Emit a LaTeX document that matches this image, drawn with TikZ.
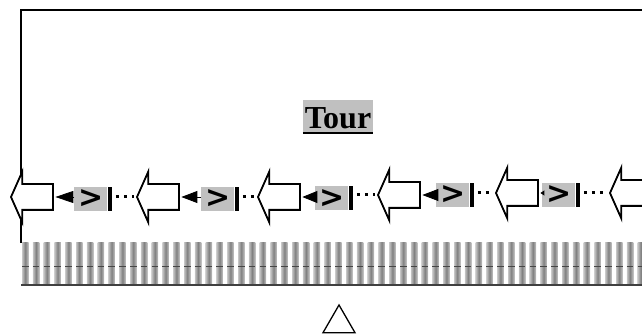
\documentclass[tikz,border=0pt]{standalone}
\usepackage{fontspec}
\setmainfont{Liberation Serif}
\newfontfamily\glyphfont{DejaVu Sans}
\usetikzlibrary{shapes,arrows.meta,positioning,calc}
\definecolor{boxgrey}{HTML}{C0C0C0}

\begin{document}
\begin{tikzpicture}[x=1pt, y=-1pt,
  blk/.style={single arrow, draw, fill=white, line width=1.8pt, shape border rotate=180,
    single arrow head extend=12.5pt, single arrow tip angle=132, minimum height=42pt,
    text height=12pt, text depth=12pt, inner sep=0pt, anchor=tip},
  gbox/.style={rectangle, fill=boxgrey, minimum width=33pt, minimum height=24pt, inner sep=0pt,
    anchor=west, font=\glyphfont\fontsize{30}{30}\selectfont\bfseries},
  gbar/.style={rectangle, fill=black, minimum width=4pt, minimum height=24pt, inner sep=0pt, anchor=west},
  dots/.style={line width=3pt, dash pattern=on 3pt off 5pt},
  tourbox/.style={fill=boxgrey, minimum width=70pt, minimum height=33pt, inner sep=0pt,
    text height=25pt, text depth=0pt, font=\fontsize{32}{32}\selectfont\bfseries}
]
  \useasboundingbox (0,0) rectangle (642,336);
  \clip (0,0) rectangle (642,336);
  % striped band
  \foreach \k in {0,...,57}{
    \shade[left color=gray!45, right color=gray!45, middle color=gray!100] ({22+10.8*\k},243) rectangle ++(6.5,42);
    \draw[gray!55!black, line width=0.8pt] ({22+10.8*\k},266) -- ++(6.5,0);}
  \draw[gray!50!black, line width=1.2pt] (21,285) -- (642,285);
  \draw[line width=2pt] (21,243) -- (21,10) -- (642,10);
  \node[tourbox] (tour) at (338,116.5) {Tour};
  \draw[line width=2.5pt] (tour.south west) -- (tour.south east);
  \foreach \i/\x/\y in {1/10/197, 2/136/197, 3/257/197, 4/377/195, 5/495/193, 6/609/193}{
     \node[blk] (a\i) at (\x,\y) {};}
  \foreach \i/\x/\y/\tlen/\twid in {1/74/199/18/12, 2/201/199/16/12, 3/315/198.5/15/12, 4/436/195/16/12, 5/542/195/4/5}{
     \node[gbox] (g\i) at (\x,\y) {>};
     \node[gbar] (b\i) at (g\i.east) {};
     \draw[-{Triangle[length=\tlen pt,width=\twid pt]}, line width=0.8pt, shorten >=1.5pt] (g\i.west |- a\i.tail) -- (a\i.tail);}
  \foreach \i/\j in {1/2,2/3,3/4,4/5,5/6}{\draw[dots, shorten <=4pt, shorten >=2pt] (b\i.east |- a\j.tip) -- (a\j.tip);}
  \node[regular polygon, regular polygon sides=3, draw, line width=1.3pt, minimum size=37pt, inner sep=0pt] (warn) at (339,323.5) {};
\end{tikzpicture}
\end{document}
